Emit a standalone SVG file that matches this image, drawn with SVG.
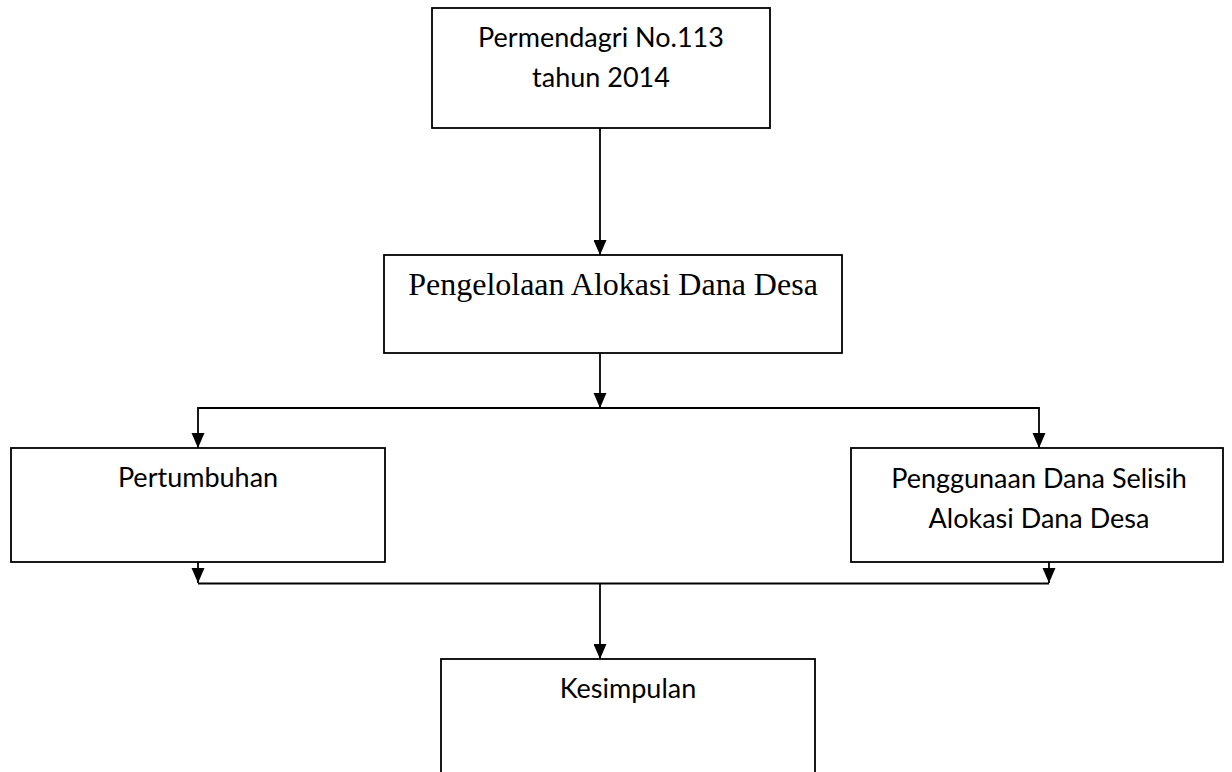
<svg xmlns="http://www.w3.org/2000/svg" width="1232" height="772" viewBox="0 0 1232 772">
<defs>
<marker id="arr" markerWidth="15" markerHeight="13" refX="15" refY="6.5" orient="auto" markerUnits="userSpaceOnUse" viewBox="0 0 15 13">
<path d="M0,0 L15,6.5 L0,13 Z" fill="#000"/>
</marker>
<style>
.box{fill:#fff;stroke:#000;stroke-width:1.8}
.t{font-family:Lato,"Liberation Sans",sans-serif;font-size:27px;fill:#000;text-anchor:middle}
.s{font-family:"Liberation Serif","Times New Roman",serif;font-size:32px;fill:#000;text-anchor:middle}
.c{fill:none;stroke:#000;stroke-width:1.8}
</style>
</defs>
<rect width="1232" height="772" fill="#fff"/>
<g id="connectors">
<line class="c" x1="600" y1="128" x2="600" y2="255" marker-end="url(#arr)"/>
<line class="c" x1="600" y1="353" x2="600" y2="408"/>
<polyline class="c" points="198,448 198,408 1039,408 1039,448"/>
<path d="M191.5,433 L204.5,433 L198,448 Z"/>
<path d="M1032.5,433 L1045.5,433 L1039,448 Z"/>
<path d="M593.5,393 L606.5,393 L600,408 Z"/>
<line class="c" x1="198" y1="562" x2="198" y2="583"/>
<line class="c" x1="1049" y1="562" x2="1049" y2="583"/>
<path d="M191.5,568 L204.5,568 L198,583 Z"/>
<path d="M1042.5,568 L1055.5,568 L1049,583 Z"/>
<line class="c" x1="198" y1="583.5" x2="1049" y2="583.5"/>
<line class="c" x1="600" y1="583" x2="600" y2="659" marker-end="url(#arr)"/>
</g>
<g id="n1">
<rect class="box" x="432" y="8" width="338" height="120"/>
<text class="t" x="601" y="47">Permendagri No.113</text>
<text class="t" x="601" y="87">tahun 2014</text>
</g>
<g id="n2">
<rect class="box" x="384" y="255" width="458" height="98"/>
<text class="s" x="613" y="295">Pengelolaan Alokasi Dana Desa</text>
</g>
<g id="n3">
<rect class="box" x="11" y="448" width="374" height="114"/>
<text class="t" x="198" y="487">Pertumbuhan</text>
</g>
<g id="n4">
<rect class="box" x="851" y="448" width="372" height="114"/>
<text class="t" x="1039" y="488">Penggunaan Dana Selisih</text>
<text class="t" x="1039" y="528">Alokasi Dana Desa</text>
</g>
<g id="n5">
<rect class="box" x="441" y="659" width="374" height="130"/>
<text class="t" x="628" y="698">Kesimpulan</text>
</g>
</svg>
